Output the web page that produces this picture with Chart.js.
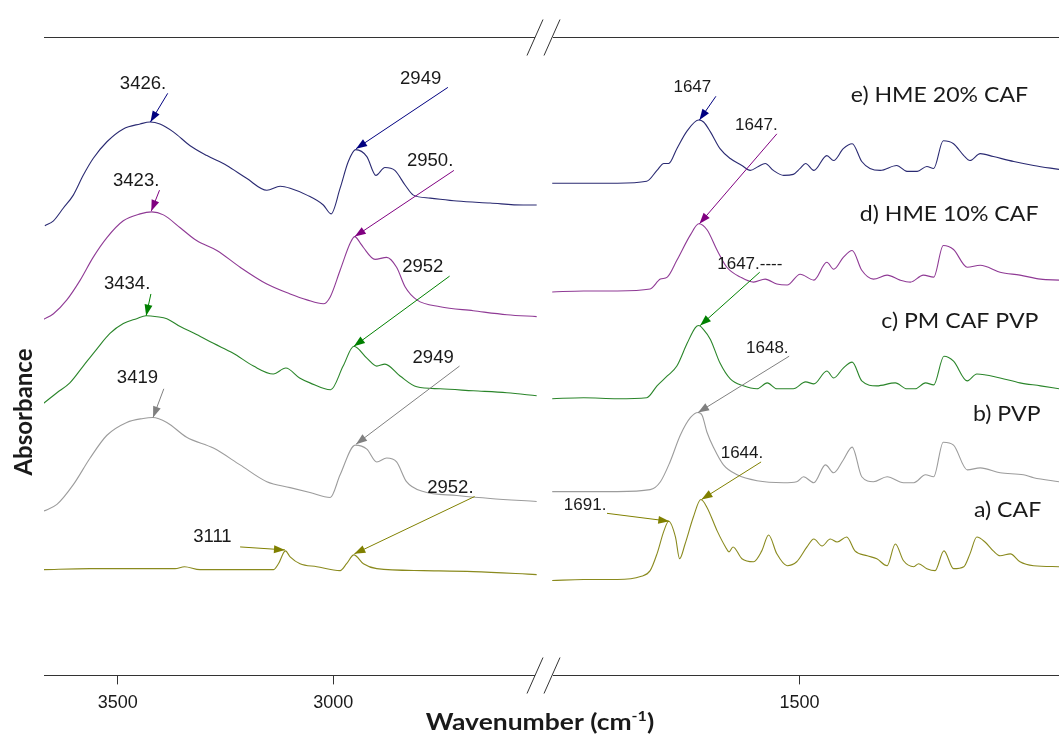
<!DOCTYPE html>
<html>
<head>
<meta charset="utf-8">
<script src="https://cdn.jsdelivr.net/npm/chart.js@4.4.1/dist/chart.umd.min.js"></script>
<style>
  html, body { margin: 0; padding: 0; background: #fff; }
  canvas { display: block; }
</style>
</head>
<body>
<canvas id="ftir" width="1059" height="734"></canvas>
<script>
// [wavenumber cm-1, stacked absorbance (a.u.)]
// left panel = 3700-2500 region, right panel = 1870-1120 region

const cafLeft = [[3673,1.07],[3564,1.08],[3448,1.08],[3367,1.08],[3345,1.10],[3309,1.07],[3139,1.07],[3127,1.13],[3111,1.26],[3100,1.20],[3077,1.13],[3038,1.10],[2984,1.06],[2969,1.13],[2952,1.22],[2930,1.13],[2899,1.08],[2791,1.06],[2675,1.05],[2528,1.02]];
const pvpLeft = [[3673,1.66],[3641,1.73],[3603,1.93],[3564,2.20],[3525,2.43],[3479,2.56],[3441,2.60],[3419,2.61],[3386,2.56],[3340,2.41],[3278,2.30],[3216,2.13],[3154,1.96],[3100,1.90],[3054,1.85],[3007,1.80],[2984,2.03],[2949,2.33],[2922,2.29],[2899,2.16],[2876,2.20],[2853,2.16],[2830,1.96],[2791,1.86],[2713,1.82],[2636,1.79],[2528,1.76]];
const pmLeft = [[3673,2.75],[3641,2.86],[3611,2.96],[3580,3.13],[3549,3.30],[3518,3.46],[3487,3.56],[3456,3.61],[3434,3.64],[3409,3.63],[3386,3.61],[3355,3.53],[3317,3.45],[3278,3.36],[3232,3.26],[3185,3.13],[3139,3.05],[3110,3.11],[3078,3.01],[3054,2.96],[3006,2.89],[2977,3.13],[2952,3.33],[2922,3.21],[2899,3.13],[2880,3.15],[2845,3.03],[2806,2.92],[2752,2.90],[2675,2.88],[2597,2.86],[2528,2.83]];
const hme10Left = [[3673,3.60],[3649,3.66],[3618,3.80],[3587,4.00],[3557,4.23],[3525,4.43],[3487,4.60],[3448,4.67],[3421,4.69],[3394,4.66],[3355,4.53],[3317,4.40],[3270,4.30],[3216,4.13],[3154,3.96],[3100,3.86],[3061,3.80],[3023,3.76],[3007,3.83],[2984,4.10],[2960,4.38],[2950,4.44],[2938,4.38],[2930,4.33],[2903,4.21],[2876,4.23],[2853,4.13],[2833,3.93],[2806,3.80],[2752,3.73],[2675,3.69],[2597,3.65],[2528,3.63]];
const hme20Left = [[3669,4.55],[3649,4.60],[3626,4.73],[3603,4.86],[3580,5.06],[3557,5.23],[3525,5.40],[3487,5.53],[3448,5.58],[3425,5.60],[3402,5.58],[3371,5.50],[3332,5.36],[3293,5.26],[3247,5.16],[3201,5.03],[3154,4.91],[3123,4.95],[3100,4.93],[3061,4.86],[3023,4.76],[3005,4.67],[2984,4.93],[2965,5.20],[2948,5.32],[2922,5.25],[2901,5.06],[2880,5.14],[2857,5.11],[2833,4.96],[2814,4.86],[2775,4.83],[2713,4.80],[2636,4.78],[2559,4.76],[2528,4.76]];

const cafRight = [[1861,0.96],[1815,0.97],[1766,0.97],[1732,1.00],[1718,1.06],[1708,1.23],[1698,1.46],[1691,1.56],[1681,1.40],[1675,1.18],[1667,1.33],[1655,1.60],[1644,1.78],[1635,1.70],[1620,1.46],[1608,1.30],[1603,1.25],[1597,1.30],[1584,1.18],[1567,1.15],[1555,1.26],[1545,1.42],[1533,1.23],[1518,1.11],[1504,1.15],[1489,1.30],[1479,1.38],[1467,1.31],[1455,1.38],[1445,1.35],[1431,1.40],[1419,1.26],[1401,1.21],[1387,1.18],[1372,1.11],[1360,1.33],[1348,1.16],[1333,1.10],[1326,1.13],[1314,1.08],[1302,1.06],[1289,1.26],[1275,1.08],[1260,1.10],[1251,1.23],[1241,1.40],[1229,1.35],[1217,1.26],[1207,1.21],[1192,1.23],[1178,1.15],[1158,1.11],[1121,1.10]];
const pvpRight = [[1861,1.86],[1815,1.86],[1766,1.86],[1718,1.88],[1703,1.96],[1689,2.16],[1674,2.43],[1659,2.61],[1648,2.66],[1642,2.63],[1635,2.46],[1625,2.30],[1611,2.13],[1591,2.03],[1562,1.97],[1523,1.95],[1504,1.96],[1494,2.01],[1479,1.95],[1462,2.13],[1450,2.05],[1436,2.18],[1423,2.31],[1409,2.01],[1392,1.96],[1372,2.01],[1348,1.95],[1333,1.95],[1316,2.03],[1304,2.01],[1290,2.36],[1275,2.33],[1255,2.08],[1236,2.10],[1207,2.05],[1173,2.03],[1158,2.00],[1121,1.96]];
const pmRight = [[1861,2.80],[1815,2.81],[1766,2.80],[1723,2.81],[1708,2.93],[1693,3.03],[1679,3.13],[1664,3.36],[1652,3.52],[1647,3.54],[1640,3.50],[1630,3.40],[1616,3.16],[1601,3.00],[1582,2.93],[1562,2.90],[1547,2.96],[1533,2.90],[1509,2.90],[1491,2.97],[1479,2.95],[1460,3.08],[1450,3.01],[1436,3.11],[1423,3.17],[1409,2.98],[1387,2.93],[1360,2.96],[1343,2.90],[1331,2.90],[1316,2.96],[1304,2.94],[1289,3.23],[1275,3.18],[1255,2.98],[1241,3.05],[1207,3.01],[1178,2.96],[1148,2.93],[1121,2.90]];
const hme10Right = [[1861,3.88],[1815,3.89],[1766,3.89],[1718,3.91],[1703,4.01],[1693,4.03],[1679,4.20],[1659,4.46],[1647,4.57],[1635,4.51],[1620,4.30],[1606,4.13],[1586,4.03],[1567,3.98],[1550,4.01],[1533,3.96],[1518,3.95],[1499,4.06],[1479,4.00],[1460,4.18],[1450,4.11],[1436,4.23],[1423,4.30],[1409,4.10],[1392,4.01],[1372,4.05],[1353,4.00],[1338,3.98],[1319,4.05],[1304,4.03],[1290,4.35],[1275,4.31],[1255,4.13],[1236,4.15],[1207,4.08],[1178,4.05],[1148,4.01],[1121,4.00]];
const hme20Right = [[1861,4.98],[1815,4.98],[1766,4.98],[1723,5.00],[1708,5.11],[1698,5.18],[1691,5.18],[1679,5.33],[1664,5.51],[1647,5.62],[1640,5.60],[1630,5.50],[1616,5.33],[1601,5.23],[1584,5.16],[1572,5.11],[1560,5.15],[1550,5.18],[1538,5.11],[1523,5.06],[1509,5.07],[1499,5.13],[1491,5.18],[1479,5.11],[1460,5.26],[1450,5.21],[1436,5.33],[1423,5.38],[1409,5.20],[1397,5.13],[1382,5.11],[1358,5.16],[1343,5.10],[1328,5.10],[1314,5.15],[1304,5.13],[1290,5.41],[1275,5.38],[1260,5.26],[1251,5.21],[1236,5.28],[1217,5.25],[1187,5.20],[1158,5.16],[1121,5.12]];

const leftTicks = [3500, 3000];
const rightTicks = [1500];
const sampleNames = ["a) CAF", "b) PVP", "c) PM CAF PVP", "d) HME 10% CAF", "e) HME 20% CAF"];

// peak call-outs: label, axis, text anchor, arrow tail, arrow tip (data coords)
const peakNotes = [
	{ text: "3426.", axis: "xL", color: "#000080", at: [3495, 5.93], from: [3384, 5.89], to: [3424, 5.60] },
	{ text: "2949", axis: "xL", color: "#000080", at: [2845, 5.98], from: [2734, 5.95], to: [2947, 5.33] },
	{ text: "3423.", axis: "xL", color: "#800080", at: [3511, 4.95], from: [3403, 4.91], to: [3422, 4.70] },
	{ text: "2950.", axis: "xL", color: "#800080", at: [2829, 5.15], from: [2720, 5.11], to: [2950, 4.44] },
	{ text: "3434.", axis: "xL", color: "#008000", at: [3532, 3.91], from: [3423, 3.86], to: [3434, 3.64] },
	{ text: "2952", axis: "xL", color: "#008000", at: [2840, 4.08], from: [2730, 4.04], to: [2952, 3.33] },
	{ text: "3419", axis: "xL", color: "#808080", at: [3502, 2.96], from: [3393, 2.90], to: [3418, 2.61] },
	{ text: "2949", axis: "xL", color: "#808080", at: [2816, 3.16], from: [2707, 3.13], to: [2947, 2.34] },
	{ text: "2952.", axis: "xL", color: "#808000", at: [2782, 1.85], from: [2672, 1.81], to: [2951, 1.23] },
	{ text: "3111", axis: "xL", color: "#808000", at: [3325, 1.35], from: [3216, 1.30], to: [3112, 1.27] },
	{ text: "1647", axis: "xR", color: "#000080", at: [1684, 5.90], from: [1622, 5.86], to: [1646, 5.62] },
	{ text: "1647.", axis: "xR", color: "#800080", at: [1594, 5.52], from: [1533, 5.48], to: [1646, 4.57] },
	{ text: "1647.----", axis: "xR", color: "#008000", at: [1620, 4.11], from: [1558, 4.08], to: [1645, 3.54] },
	{ text: "1648.", axis: "xR", color: "#808080", at: [1578, 3.26], from: [1515, 3.23], to: [1648, 2.66] },
	{ text: "1644.", axis: "xR", color: "#808000", at: [1615, 2.20], from: [1556, 2.16], to: [1643, 1.78] },
	{ text: "1691.", axis: "xR", color: "#808000", at: [1844, 1.67], from: [1781, 1.64], to: [1690, 1.56] },
];

// right-aligned sample names, anchored on the right axis
const nameAnchors = [[1147, 1.60], [1148, 2.57], [1151, 3.52], [1151, 4.60], [1166, 5.80]];

const series = [
	{ left: cafLeft, right: cafRight, color: "#8a8a1e" },
	{ left: pvpLeft, right: pvpRight, color: "#9c9c9c" },
	{ left: pmLeft, right: pmRight, color: "#2a852a" },
	{ left: hme10Left, right: hme10Right, color: "#8f3a95" },
	{ left: hme20Left, right: hme20Right, color: "#2a2a72" },
];

const toXY = (arr) => arr.map(([x, y]) => ({ x: x, y: y }));

const datasets = [];
series.forEach(function (s, i) {
	datasets.push({ label: sampleNames[i], data: toXY(s.left), xAxisID: "xL", borderColor: s.color });
	datasets.push({ label: sampleNames[i], data: toXY(s.right), xAxisID: "xR", borderColor: s.color });
});

function arrow(ctx, x1, y1, x2, y2, color) {
	ctx.strokeStyle = color;
	ctx.lineWidth = 1;
	ctx.beginPath();
	ctx.moveTo(x1, y1);
	ctx.lineTo(x2, y2);
	ctx.stroke();
	const a = Math.atan2(y2 - y1, x2 - x1);
	const len = 11, half = 4;
	const bx = x2 - len * Math.cos(a), by = y2 - len * Math.sin(a);
	ctx.fillStyle = color;
	ctx.beginPath();
	ctx.moveTo(x2, y2);
	ctx.lineTo(bx + half * Math.sin(a), by - half * Math.cos(a));
	ctx.lineTo(bx - half * Math.sin(a), by + half * Math.cos(a));
	ctx.closePath();
	ctx.fill();
}

// text squeezed/stretched horizontally (the source figure is widened)
function wideText(ctx, text, x, y, sx, align) {
	ctx.save();
	ctx.translate(x, y);
	ctx.scale(sx, 1);
	ctx.textAlign = align;
	ctx.fillText(text, 0, 0);
	ctx.restore();
}

// frame lines with axis breaks, titles, sample names and peak call-outs
const decorations = {
	id: "decorations",
	afterDraw(chart) {
		const { ctx, chartArea, scales } = chart;
		const xL = scales.xL, xR = scales.xR, y = scales.y;
		const brk = xL.right;
		ctx.save();

		ctx.strokeStyle = "#333";
		ctx.lineWidth = 1;
		[chartArea.top, chartArea.bottom].forEach(function (edge) {
			const ly = Math.round(edge) + 0.5;
			ctx.beginPath();
			ctx.moveTo(chartArea.left, ly);
			ctx.lineTo(brk - 9, ly);
			ctx.moveTo(brk + 9, ly);
			ctx.lineTo(chartArea.right, ly);
			[brk - 9, brk + 8].forEach(function (cx) {
				ctx.moveTo(cx - 8, ly + 18);
				ctx.lineTo(cx + 8, ly - 18);
			});
			ctx.stroke();
		});

		// peak call-outs
		ctx.textBaseline = "alphabetic";
		peakNotes.forEach(function (n) {
			const sx = scales[n.axis];
			arrow(ctx, sx.getPixelForValue(n.from[0]), y.getPixelForValue(n.from[1]),
				sx.getPixelForValue(n.to[0]), y.getPixelForValue(n.to[1]), n.color);
			ctx.fillStyle = "#1a1a1a";
			ctx.font = (n.axis === "xL" ? "18px" : "16.5px") + " 'Liberation Sans', Arial, sans-serif";
			wideText(ctx, n.text, sx.getPixelForValue(n.at[0]), y.getPixelForValue(n.at[1]), 1.03, "left");
		});

		// sample names
		ctx.fillStyle = "#1a1a1a";
		ctx.font = "21px Lato, 'Open Sans', sans-serif";
		sampleNames.forEach(function (name, i) {
			wideText(ctx, name, xR.getPixelForValue(nameAnchors[i][0]), y.getPixelForValue(nameAnchors[i][1]), 1.1, "right");
		});

		// x title with superscript
		const sx = 1.15;
		const base = "Wavenumber (cm";
		ctx.font = "bold 23px Lato, sans-serif";
		const w1 = ctx.measureText(base).width * sx;
		const w3 = ctx.measureText(")").width * sx;
		ctx.font = "bold 14px Lato, sans-serif";
		const w2 = ctx.measureText("-1").width * sx;
		const tx = brk - 4 - (w1 + w2 + w3) / 2;
		const ty = chart.height - 4;
		ctx.font = "bold 23px Lato, sans-serif";
		wideText(ctx, base, tx, ty, sx, "left");
		ctx.font = "bold 14px Lato, sans-serif";
		wideText(ctx, "-1", tx + w1, ty - 9, sx, "left");
		ctx.font = "bold 23px Lato, sans-serif";
		wideText(ctx, ")", tx + w1 + w2, ty, sx, "left");

		// y title
		ctx.translate(32, 412);
		ctx.rotate(-Math.PI / 2);
		ctx.textAlign = "center";
		ctx.font = "bold 24px Lato, sans-serif";
		ctx.fillText("Absorbance", 0, 0);
		ctx.restore();
	},
};

function xAxis(min, max, weight, tickValues) {
	return {
		type: "linear",
		position: "bottom",
		stack: "wavenumber",
		stackWeight: weight,
		reverse: true,
		min: min,
		max: max,
		afterBuildTicks: function (scale) {
			scale.ticks = tickValues.map((v) => ({ value: v }));
		},
		ticks: {
			callback: (v) => String(v),
			color: "#1a1a1a",
			font: { family: "'Liberation Sans', Arial, sans-serif", size: 18 },
			padding: 8,
			maxRotation: 0,
			autoSkip: false,
		},
		grid: { drawOnChartArea: false, drawTicks: true, tickLength: 9, color: "#333" },
		border: { display: false },
	};
}

new Chart(document.getElementById("ftir"), {
	type: "line",
	data: { datasets: datasets },
	options: {
		responsive: false,
		animation: false,
		layout: { padding: { left: 44, top: 37, right: 0, bottom: 12 } },
		elements: {
			point: { radius: 0 },
			line: { borderWidth: 1.1, cubicInterpolationMode: "monotone", fill: false },
		},
		scales: {
			xL: xAxis(2511, 3671, 500, leftTicks),
			xR: xAxis(1121, 1873, 515, rightTicks),
			y: { display: false, min: 0, max: 6.46 },
		},
		plugins: { legend: { display: false }, tooltip: { enabled: false } },
	},
	plugins: [decorations],
});
</script>
</body>
</html>
